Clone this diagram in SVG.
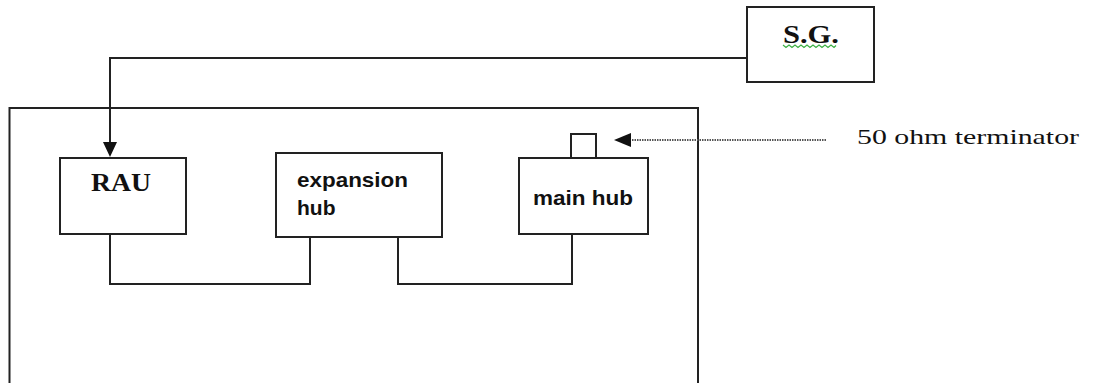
<svg xmlns="http://www.w3.org/2000/svg" width="1093" height="383" viewBox="0 0 1093 383">
<style>
.box{fill:#fff;stroke:#222;stroke-width:2}
.ln{fill:none;stroke:#222;stroke-width:2}
.serif{font-family:"Liberation Serif","Times New Roman",serif;fill:#111}
.sans{font-family:"Liberation Sans",Arial,sans-serif;font-weight:bold;fill:#111}
</style>
<rect width="1093" height="383" fill="#fff"/>
<g id="enclosure">
<path class="ln" d="M9.5,390 V108 H698 V390"/>
</g>
<g id="connectors">
<path class="ln" d="M747,58 H110 V143"/>
<path d="M103,142 L117,142 L110,157 z" fill="#111"/>
<path class="ln" d="M110,234 V284 H310 V237"/>
<path class="ln" d="M398,237 V284 H572 V234"/>
<line x1="826" y1="140" x2="630" y2="140" stroke="#555" stroke-width="2" stroke-dasharray="1.5,1"/>
<path d="M614,140 L631,133 L631,147 z" fill="#111"/>
</g>
<g id="sg">
<rect class="box" x="747" y="7" width="127" height="75"/>
<text class="serif" x="783" y="43" font-size="26" font-weight="bold" textLength="56" lengthAdjust="spacingAndGlyphs">S.G.</text>
<path d="M783,45 l3,2.5 l3,-2.5 l3,2.5 l3,-2.5 l3,2.5 l3,-2.5 l3,2.5 l3,-2.5 l3,2.5 l3,-2.5 l3,2.5 l3,-2.5 l3,2.5 l3,-2.5 l3,2.5 l3,-2.5 l3,2.5 l2,-2" fill="none" stroke="#3cb043" stroke-width="1.2"/>
</g>
<g id="rau">
<rect class="box" x="60" y="158" width="126" height="76"/>
<text class="serif" x="91" y="191" font-size="26" font-weight="bold" textLength="60" lengthAdjust="spacingAndGlyphs">RAU</text>
</g>
<g id="expansion-hub">
<rect class="box" x="276" y="153" width="166" height="84"/>
<text class="sans" x="297" y="187" font-size="21" textLength="111" lengthAdjust="spacingAndGlyphs">expansion</text>
<text class="sans" x="297" y="215" font-size="21">hub</text>
</g>
<g id="main-hub">
<rect class="box" x="571" y="134" width="25" height="24"/>
<rect class="box" x="519" y="158" width="129" height="76"/>
<text class="sans" x="533" y="205" font-size="21" textLength="100" lengthAdjust="spacingAndGlyphs">main hub</text>
</g>
<g id="terminator-label">
<text class="serif" x="857" y="144" font-size="21" textLength="222" lengthAdjust="spacingAndGlyphs">50 ohm terminator</text>
</g>
</svg>
